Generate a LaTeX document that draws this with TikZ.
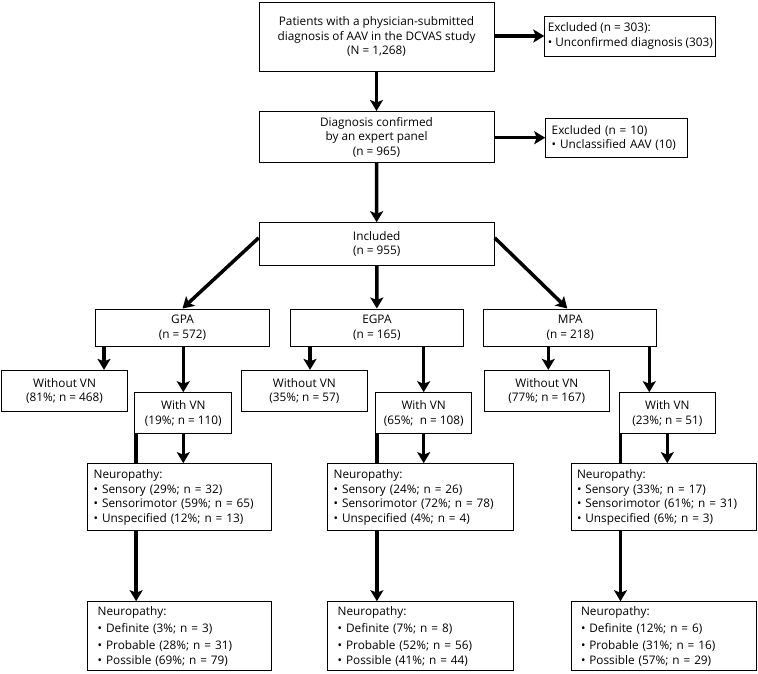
\documentclass[tikz,border=0pt]{standalone}
\usepackage{fontspec}
\setmainfont{Open Sans}
\usetikzlibrary{arrows.meta,positioning}
\tikzset{flowbox/.style={draw,line width=1pt,align=center,inner sep=3pt,font=\fontsize{11.8}{14.5}\selectfont},
  listbox/.style={flowbox,align=left,inner xsep=6pt},
  flowline/.style={line width=3.5pt}}

\begin{document}
\begin{tikzpicture}[x=1pt,y=-1pt,>={Stealth[length=11pt,width=13pt,inset=2.5pt]}]
    \useasboundingbox (0,0) rectangle (758,673);

    % screening
    \node[flowbox,minimum width=235pt,minimum height=69pt] (patients) at (376.5,36.5)
      {Patients with a physician-submitted\\diagnosis of AAV in the DCVAS study\\(N = 1,268)};
    \node[listbox,inner xsep=3pt,minimum height=40pt,anchor=west] (excl1) at (544.3,36)
      {Excluded (n = 303):\\• Unconfirmed diagnosis (303)};
    \node[flowbox,minimum width=235pt,minimum height=51pt] (confirmed) at (376.5,137)
      {Diagnosis confirmed\\by an expert panel\\(n = 965)};
    \node[listbox,inner xsep=6pt,text width=130pt,minimum height=38.7pt] (excl2) at (616.7,137.7)
      {Excluded (n = 10)\\• Unclassified AAV (10)};
    \node[flowbox,minimum width=235pt,minimum height=42.6pt] (included) at (376.7,244)
      {Included\\(n = 955)};

    % subtypes
    \node[flowbox,minimum width=173.5pt,minimum height=37pt] (gpa) at (182.5,327.5) {GPA\\(n = 572)};
    \node[flowbox,minimum width=173pt,minimum height=37pt] (egpa) at (376.9,327.5) {EGPA\\(n = 165)};
    \node[flowbox,minimum width=173pt,minimum height=37pt] (mpa) at (570.3,327.5) {MPA\\(n = 218)};

    \node[flowbox,minimum width=125.6pt,minimum height=40.7pt] (gpawo) at (64.5,390.7) {Without VN\\(81\%; n = 468)};
    \node[flowbox,minimum width=96.7pt,minimum height=41pt] (gpawith) at (183.3,413.2) {With VN\\(19\%; n = 110)};
    \node[flowbox,minimum width=126pt,minimum height=40.7pt] (egpawo) at (304.3,390.7) {Without VN\\(35\%; n = 57)};
    \node[flowbox,minimum width=96pt,minimum height=41pt] (egpawith) at (423.7,413.2) {With VN\\(65\%; \ n = 108)};
    \node[flowbox,minimum width=125pt,minimum height=40.7pt] (mpawo) at (546.8,390.7) {Without VN\\(77\%; n = 167)};
    \node[flowbox,minimum width=96pt,minimum height=41pt] (mpawith) at (667.3,413.2) {With VN\\(23\%; n = 51)};

    % neuropathy type
    \node[listbox,text width=172pt,minimum height=67.3pt] (gpaneu) at (179.7,497.3)
      {Neuropathy:\\• Sensory (29\%; n = 32)\\• Sensorimotor (59\%; n = 65)\\• Unspecified (12\%; n = 13)};
    \node[listbox,text width=173.6pt,minimum height=67.3pt] (egpaneu) at (420.5,497.3)
      {Neuropathy:\\• Sensory (24\%; n = 26)\\• Sensorimotor (72\%; n = 78)\\• Unspecified (4\%; n = 4)};
    \node[listbox,text width=173pt,minimum height=67.3pt] (mpaneu) at (663.5,497.3)
      {Neuropathy:\\• Sensory (33\%; n = 17)\\• Sensorimotor (61\%; n = 31)\\• Unspecified (6\%; n = 3)};

    % neuropathy certainty
    \node[listbox,inner xsep=10pt,text width=164pt,minimum height=69pt] (gpadef) at (179.7,636.2)
      {Neuropathy:\\[2.5pt]• Definite (3\%; n = 3)\\[3pt]• Probable (28\%; n = 31)\\• Possible (69\%; n = 79)};
    \node[listbox,inner xsep=10pt,text width=165.6pt,minimum height=69pt] (egpadef) at (420.5,636.2)
      {Neuropathy:\\[2.5pt]• Definite (7\%; n = 8)\\[3pt]• Probable (52\%; n = 56)\\• Possible (41\%; n = 44)};
    \node[listbox,inner xsep=10pt,text width=165pt,minimum height=69pt] (mpadef) at (663.5,636.2)
      {Neuropathy:\\[2.5pt]• Definite (12\%; n = 6)\\[3pt]• Probable (31\%; n = 16)\\• Possible (57\%; n = 29)};

    % connectors
    \draw[flowline,->] (patients) -- (confirmed);
    \draw[flowline,->] (patients.east |- excl1.west) -- (excl1.west);
    \draw[flowline,->] (confirmed) -- (included);
    \draw[flowline,->] (confirmed.east |- excl2.west) -- (excl2.west);
    \draw[flowline,->] (included.177) -- (gpa.north);
    \draw[flowline,->] (included) -- (egpa);
    \draw[flowline,->] (included.3) -- ([xshift=-3pt]mpa.north);

    \foreach \g/\wo/\wi in {gpa/39.5/0,egpa/5.7/0,mpa/1.5/-18} {
      \draw[flowline,->] ([xshift=\wo pt]\g wo.north |- \g.south) -- ([xshift=\wo pt]\g wo.north);
      \draw[flowline,->] ([xshift=\wi pt]\g with.north |- \g.south) -- ([xshift=\wi pt]\g with.north);
      \draw[flowline,->] (\g with) -- (\g with |- \g neu.north);
      \draw[flowline] ([xshift=1.7pt]\g with.south west) -- ([xshift=1.7pt]\g with.south west |- \g neu.north);
      \draw[flowline,->] ([xshift=1.7pt]\g with.south west |- \g neu.south) -- ([xshift=1.7pt]\g with.south west |- \g def.north);
    }
  \end{tikzpicture}
\end{document}
